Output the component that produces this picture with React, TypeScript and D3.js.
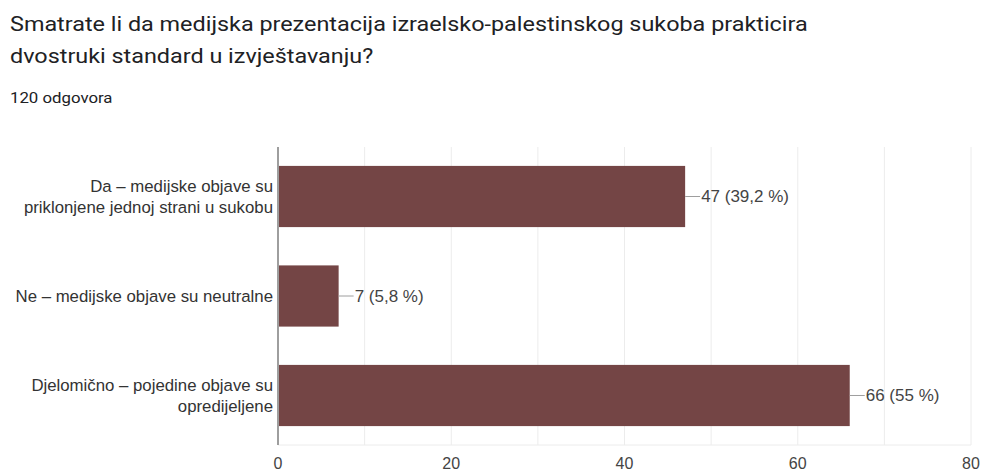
import { scaleLinear, scaleBand, range } from "d3";

const categories = [
  ["Da – medijske objave su", "priklonjene jednoj strani u sukobu"],
  ["Ne – medijske objave su neutralne"],
  ["Djelomično – pojedine objave su", "opredijeljene"],
];
const counts = [47, 7, 66];
const percentLabels = ["39,2 %", "5,8 %", "55 %"];
const xTicks = [0, 20, 40, 60, 80];

const titleLines = [
  "Smatrate li da medijska prezentacija izraelsko-palestinskog sukoba prakticira",
  "dvostruki standard u izvještavanju?",
];
const subtitle = "120 odgovora";

const W = 983;
const H = 472;
const barColor = "#744545";
const chartFont = "'Liberation Sans', Arial, sans-serif";
const titleFont = "Roboto, sans-serif";
// the reference screenshot is a little stretched sideways
const stretch = 1.2;

export default function App() {
  const x = scaleLinear().domain([0, 80]).range([278, 971]);
  const y = scaleBand<number>()
    .domain(range(categories.length))
    .range([147, 445])
    .paddingInner(0.385)
    .paddingOuter(0.19);

  const grid = range(0, 81, 10);

  return (
    <>
      <style>{`body{margin:0}`}</style>
      <svg width={W} height={H} style={{ display: "block", background: "#fff" }}>
        {/* title */}
        {titleLines.map((t, i) => (
          <text
            key={i}
            transform={`translate(10,${31 + i * 32}) scale(${stretch},1)`}
            fontFamily={titleFont}
            fontSize={19.5}
            fill="#202124"
          >
            {t}
          </text>
        ))}
        <text
          transform={`translate(10,103) scale(${stretch},1)`}
          fontFamily={titleFont}
          fontSize={14}
          fill="#202124"
        >
          {subtitle}
        </text>

        {/* grid */}
        {grid.map((g) => (
          <line key={g} x1={x(g)} x2={x(g)} y1={147} y2={445} stroke="#ececec" strokeWidth={1} />
        ))}
        <line x1={278} x2={971} y1={445} y2={445} stroke="#ececec" />

        {/* bars */}
        {counts.map((c, i) => {
          const y0 = y(i)!;
          const bh = y.bandwidth();
          const cy = y0 + bh / 2;
          return (
            <g key={i}>
              <rect x={x(0)} y={y0} width={x(c) - x(0)} height={bh} fill={barColor} />
              <line x1={x(c)} x2={x(c) + 15} y1={cy} y2={cy} stroke="#9e9e9e" strokeWidth={1} />
              <text
                x={x(c) + 16}
                y={cy}
                dy="0.35em"
                fontFamily={chartFont}
                fontSize={17}
                fill="#444"
              >
                {`${c} (${percentLabels[i]})`}
              </text>
              {categories[i].map((line, j) => (
                <text
                  key={j}
                  x={273}
                  y={cy + (j - (categories[i].length - 1) / 2) * 21}
                  dy="0.35em"
                  textAnchor="end"
                  fontFamily={chartFont}
                  fontSize={16.8}
                  fill="#333"
                >
                  {line}
                </text>
              ))}
            </g>
          );
        })}

        {/* axis line */}
        <line x1={278} x2={278} y1={147} y2={445} stroke="#9e9e9e" strokeWidth={2} />

        {/* x ticks */}
        {xTicks.map((t) => (
          <text
            key={t}
            x={x(t)}
            y={463}
            dy="0.35em"
            textAnchor="middle"
            fontFamily={chartFont}
            fontSize={16}
            fill="#444"
          >
            {t}
          </text>
        ))}
      </svg>
    </>
  );
}
